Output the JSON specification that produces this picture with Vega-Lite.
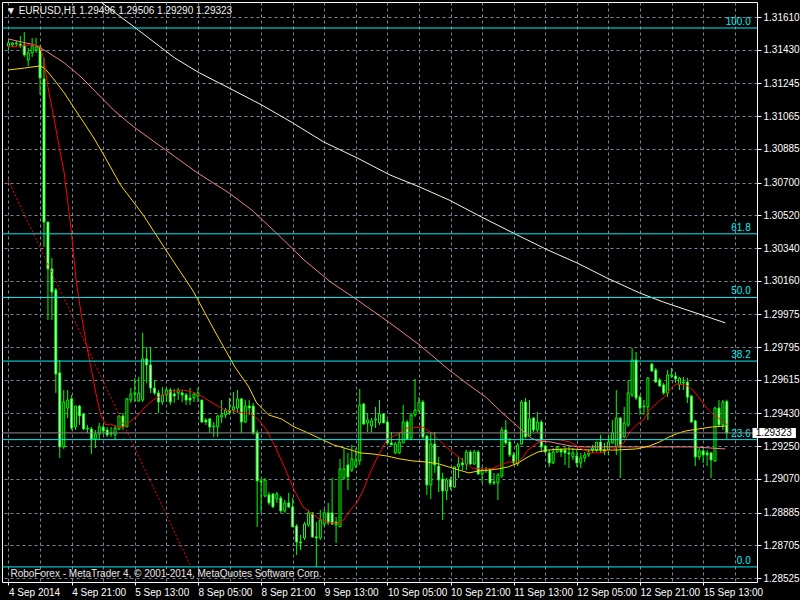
{
  "$schema": "https://vega.github.io/schema/vega-lite/v6.json",
  "width": 755,
  "height": 580,
  "autosize": "none",
  "padding": {"left": 2, "top": 2, "right": 43, "bottom": 18},
  "background": "#000000",
  "title": {
    "text": "▼ EURUSD,H1  1.29496 1.29506 1.29290 1.29323",
    "anchor": "start",
    "frame": "group",
    "offset": 0,
    "dx": 4,
    "dy": 22,
    "baseline": "alphabetic",
    "font": "Liberation Sans",
    "fontSize": 10,
    "fontWeight": "normal",
    "color": "#f0f0f0"
  },
  "datasets": {
    "bars": [
      {"i":0,"o":1.31451,"h":1.31484,"l":1.31429,"c":1.31468},
      {"i":1,"o":1.31457,"h":1.31473,"l":1.31446,"c":1.31468},
      {"i":2,"o":1.31462,"h":1.31479,"l":1.31451,"c":1.31468},
      {"i":3,"o":1.31462,"h":1.31506,"l":1.3144,"c":1.31451},
      {"i":4,"o":1.31457,"h":1.31528,"l":1.31391,"c":1.31402},
      {"i":5,"o":1.31374,"h":1.3144,"l":1.31341,"c":1.31413},
      {"i":6,"o":1.31413,"h":1.31495,"l":1.31391,"c":1.31451},
      {"i":7,"o":1.31429,"h":1.31495,"l":1.31413,"c":1.31446},
      {"i":8,"o":1.31446,"h":1.31457,"l":1.31182,"c":1.31275},
      {"i":9,"o":1.3127,"h":1.31385,"l":1.30346,"c":1.30483},
      {"i":10,"o":1.30483,"h":1.30483,"l":1.29944,"c":1.30225},
      {"i":11,"o":1.30225,"h":1.30285,"l":1.29944,"c":1.30098},
      {"i":12,"o":1.30109,"h":1.3012,"l":1.29543,"c":1.29647},
      {"i":13,"o":1.29653,"h":1.29724,"l":1.29185,"c":1.29246},
      {"i":14,"o":1.29246,"h":1.29559,"l":1.29235,"c":1.29493},
      {"i":15,"o":1.2946,"h":1.29559,"l":1.29405,"c":1.29504},
      {"i":16,"o":1.2951,"h":1.29532,"l":1.29339,"c":1.2935},
      {"i":17,"o":1.29356,"h":1.29471,"l":1.29339,"c":1.29471},
      {"i":18,"o":1.29471,"h":1.29477,"l":1.29367,"c":1.29416},
      {"i":19,"o":1.29427,"h":1.29433,"l":1.29339,"c":1.29345},
      {"i":20,"o":1.29345,"h":1.29367,"l":1.29323,"c":1.2935},
      {"i":21,"o":1.29345,"h":1.29356,"l":1.29207,"c":1.2929},
      {"i":22,"o":1.2929,"h":1.29339,"l":1.2924,"c":1.29317},
      {"i":23,"o":1.29317,"h":1.29378,"l":1.29284,"c":1.29356},
      {"i":24,"o":1.29356,"h":1.29367,"l":1.29312,"c":1.29334},
      {"i":25,"o":1.29339,"h":1.29356,"l":1.29301,"c":1.29312},
      {"i":26,"o":1.29317,"h":1.29356,"l":1.29301,"c":1.29323},
      {"i":27,"o":1.29312,"h":1.29367,"l":1.29284,"c":1.2935},
      {"i":28,"o":1.29345,"h":1.29422,"l":1.29339,"c":1.29416},
      {"i":29,"o":1.29416,"h":1.29433,"l":1.29339,"c":1.29356},
      {"i":30,"o":1.29356,"h":1.29515,"l":1.29356,"c":1.2951},
      {"i":31,"o":1.29504,"h":1.2957,"l":1.29488,"c":1.29537},
      {"i":32,"o":1.29537,"h":1.29625,"l":1.29493,"c":1.29543},
      {"i":33,"o":1.29499,"h":1.29631,"l":1.29493,"c":1.29543},
      {"i":34,"o":1.29504,"h":1.29873,"l":1.29493,"c":1.2973},
      {"i":35,"o":1.2973,"h":1.29796,"l":1.29598,"c":1.29697},
      {"i":36,"o":1.29697,"h":1.2979,"l":1.29543,"c":1.2957},
      {"i":37,"o":1.2957,"h":1.29614,"l":1.29532,"c":1.29543},
      {"i":38,"o":1.29543,"h":1.29559,"l":1.29433,"c":1.29493},
      {"i":39,"o":1.29493,"h":1.29576,"l":1.29477,"c":1.29532},
      {"i":40,"o":1.29532,"h":1.2957,"l":1.29493,"c":1.29559},
      {"i":41,"o":1.29559,"h":1.2957,"l":1.29477,"c":1.29493},
      {"i":42,"o":1.29537,"h":1.29565,"l":1.29488,"c":1.29526},
      {"i":43,"o":1.29543,"h":1.2957,"l":1.29504,"c":1.29559},
      {"i":44,"o":1.29543,"h":1.29559,"l":1.29493,"c":1.29532},
      {"i":45,"o":1.29532,"h":1.29543,"l":1.29477,"c":1.29504},
      {"i":46,"o":1.29515,"h":1.2957,"l":1.29477,"c":1.29504},
      {"i":47,"o":1.29515,"h":1.29548,"l":1.29493,"c":1.29537},
      {"i":48,"o":1.29526,"h":1.2957,"l":1.29493,"c":1.29543},
      {"i":49,"o":1.29504,"h":1.29504,"l":1.29378,"c":1.29383},
      {"i":50,"o":1.29394,"h":1.29405,"l":1.29367,"c":1.29383},
      {"i":51,"o":1.294,"h":1.29405,"l":1.29323,"c":1.29356},
      {"i":52,"o":1.29356,"h":1.29383,"l":1.29301,"c":1.29361},
      {"i":53,"o":1.29356,"h":1.29422,"l":1.29301,"c":1.29416},
      {"i":54,"o":1.29411,"h":1.29504,"l":1.29378,"c":1.29422},
      {"i":55,"o":1.29422,"h":1.2946,"l":1.29405,"c":1.29449},
      {"i":56,"o":1.29449,"h":1.29515,"l":1.29422,"c":1.29438},
      {"i":57,"o":1.29449,"h":1.29548,"l":1.29433,"c":1.29466},
      {"i":58,"o":1.2946,"h":1.29559,"l":1.29433,"c":1.2951},
      {"i":59,"o":1.2951,"h":1.29515,"l":1.29323,"c":1.29383},
      {"i":60,"o":1.29383,"h":1.29504,"l":1.29378,"c":1.29471},
      {"i":61,"o":1.29471,"h":1.29504,"l":1.29422,"c":1.2946},
      {"i":62,"o":1.29471,"h":1.29488,"l":1.29312,"c":1.29323},
      {"i":63,"o":1.29323,"h":1.29339,"l":1.28806,"c":1.29059},
      {"i":64,"o":1.29059,"h":1.29075,"l":1.28883,"c":1.29053},
      {"i":65,"o":1.28976,"h":1.29075,"l":1.2897,"c":1.29064},
      {"i":66,"o":1.28982,"h":1.28998,"l":1.28927,"c":1.28938},
      {"i":67,"o":1.28987,"h":1.28993,"l":1.2891,"c":1.28916},
      {"i":68,"o":1.2896,"h":1.28998,"l":1.28938,"c":1.28987},
      {"i":69,"o":1.28965,"h":1.28976,"l":1.28883,"c":1.28894},
      {"i":70,"o":1.28894,"h":1.28954,"l":1.28883,"c":1.28938},
      {"i":71,"o":1.28938,"h":1.28993,"l":1.2891,"c":1.28916},
      {"i":72,"o":1.28916,"h":1.28965,"l":1.28806,"c":1.28806},
      {"i":73,"o":1.28811,"h":1.28822,"l":1.28652,"c":1.28723},
      {"i":74,"o":1.28723,"h":1.28762,"l":1.28679,"c":1.28718},
      {"i":75,"o":1.28745,"h":1.28833,"l":1.28734,"c":1.28822},
      {"i":76,"o":1.28817,"h":1.28899,"l":1.28806,"c":1.28883},
      {"i":77,"o":1.28883,"h":1.28888,"l":1.28745,"c":1.28751},
      {"i":78,"o":1.28751,"h":1.28833,"l":1.28586,"c":1.28745},
      {"i":79,"o":1.28745,"h":1.28899,"l":1.28734,"c":1.28844},
      {"i":80,"o":1.28822,"h":1.28905,"l":1.28806,"c":1.28883},
      {"i":81,"o":1.28883,"h":1.28938,"l":1.28817,"c":1.28828},
      {"i":82,"o":1.28883,"h":1.29075,"l":1.28817,"c":1.28822},
      {"i":83,"o":1.28833,"h":1.28861,"l":1.28718,"c":1.28817},
      {"i":84,"o":1.28806,"h":1.2918,"l":1.28806,"c":1.29125},
      {"i":85,"o":1.29075,"h":1.2924,"l":1.29064,"c":1.29125},
      {"i":86,"o":1.29147,"h":1.29213,"l":1.29009,"c":1.29081},
      {"i":87,"o":1.29119,"h":1.29257,"l":1.29108,"c":1.2918},
      {"i":88,"o":1.29141,"h":1.2924,"l":1.2913,"c":1.29174},
      {"i":89,"o":1.29169,"h":1.29565,"l":1.29147,"c":1.29477},
      {"i":90,"o":1.29482,"h":1.29488,"l":1.29367,"c":1.29372},
      {"i":91,"o":1.29378,"h":1.29433,"l":1.29328,"c":1.29394},
      {"i":92,"o":1.29361,"h":1.29405,"l":1.29328,"c":1.29389},
      {"i":93,"o":1.29394,"h":1.29466,"l":1.2935,"c":1.294},
      {"i":94,"o":1.29378,"h":1.29504,"l":1.29367,"c":1.29427},
      {"i":95,"o":1.29427,"h":1.29433,"l":1.29378,"c":1.29378},
      {"i":96,"o":1.29383,"h":1.29394,"l":1.29257,"c":1.29268},
      {"i":97,"o":1.29268,"h":1.29328,"l":1.29257,"c":1.29257},
      {"i":98,"o":1.29213,"h":1.29273,"l":1.29207,"c":1.29262},
      {"i":99,"o":1.29213,"h":1.29323,"l":1.29207,"c":1.29273},
      {"i":100,"o":1.29268,"h":1.29477,"l":1.29268,"c":1.29383},
      {"i":101,"o":1.29383,"h":1.29394,"l":1.29284,"c":1.2929},
      {"i":102,"o":1.29295,"h":1.29433,"l":1.29284,"c":1.29422},
      {"i":103,"o":1.29422,"h":1.2962,"l":1.29411,"c":1.29449},
      {"i":104,"o":1.29444,"h":1.2952,"l":1.29438,"c":1.29493},
      {"i":105,"o":1.29493,"h":1.29504,"l":1.2929,"c":1.29301},
      {"i":106,"o":1.29306,"h":1.29312,"l":1.28982,"c":1.29037},
      {"i":107,"o":1.29037,"h":1.29328,"l":1.2896,"c":1.29262},
      {"i":108,"o":1.29262,"h":1.29328,"l":1.29103,"c":1.29147},
      {"i":109,"o":1.29141,"h":1.29191,"l":1.28998,"c":1.29064},
      {"i":110,"o":1.2907,"h":1.29103,"l":1.28844,"c":1.29004},
      {"i":111,"o":1.29004,"h":1.29075,"l":1.28954,"c":1.29064},
      {"i":112,"o":1.29064,"h":1.29081,"l":1.29009,"c":1.29026},
      {"i":113,"o":1.29026,"h":1.29136,"l":1.2902,"c":1.29136},
      {"i":114,"o":1.29136,"h":1.29191,"l":1.29075,"c":1.29152},
      {"i":115,"o":1.29158,"h":1.29185,"l":1.29119,"c":1.29147},
      {"i":116,"o":1.29152,"h":1.29229,"l":1.29119,"c":1.29218},
      {"i":117,"o":1.29218,"h":1.29229,"l":1.29147,"c":1.29152},
      {"i":118,"o":1.29152,"h":1.29229,"l":1.29147,"c":1.29218},
      {"i":119,"o":1.29218,"h":1.29229,"l":1.29092,"c":1.29097},
      {"i":120,"o":1.29097,"h":1.29136,"l":1.29048,"c":1.29119},
      {"i":121,"o":1.29119,"h":1.29136,"l":1.29103,"c":1.29114},
      {"i":122,"o":1.29125,"h":1.2913,"l":1.29037,"c":1.29048},
      {"i":123,"o":1.29053,"h":1.29103,"l":1.29037,"c":1.29048},
      {"i":124,"o":1.29048,"h":1.29103,"l":1.28954,"c":1.29092},
      {"i":125,"o":1.29086,"h":1.29356,"l":1.29075,"c":1.29339},
      {"i":126,"o":1.29339,"h":1.29394,"l":1.29257,"c":1.29268},
      {"i":127,"o":1.29273,"h":1.29295,"l":1.29191,"c":1.29202},
      {"i":128,"o":1.29202,"h":1.29218,"l":1.29147,"c":1.29158},
      {"i":129,"o":1.29152,"h":1.29268,"l":1.29141,"c":1.29257},
      {"i":130,"o":1.29262,"h":1.29504,"l":1.29257,"c":1.29493},
      {"i":131,"o":1.29493,"h":1.29515,"l":1.29295,"c":1.29301},
      {"i":132,"o":1.29306,"h":1.29504,"l":1.29301,"c":1.294},
      {"i":133,"o":1.29405,"h":1.29411,"l":1.29328,"c":1.29339},
      {"i":134,"o":1.29339,"h":1.29438,"l":1.29328,"c":1.29383},
      {"i":135,"o":1.29383,"h":1.29394,"l":1.29218,"c":1.29246},
      {"i":136,"o":1.29251,"h":1.29257,"l":1.29213,"c":1.29218},
      {"i":137,"o":1.29213,"h":1.29229,"l":1.29136,"c":1.29158},
      {"i":138,"o":1.29158,"h":1.2924,"l":1.29152,"c":1.29218},
      {"i":139,"o":1.29218,"h":1.29246,"l":1.29213,"c":1.29246},
      {"i":140,"o":1.29229,"h":1.2924,"l":1.29191,"c":1.29218},
      {"i":141,"o":1.29229,"h":1.29246,"l":1.29147,"c":1.29213},
      {"i":142,"o":1.29213,"h":1.29246,"l":1.2913,"c":1.29207},
      {"i":143,"o":1.29191,"h":1.2924,"l":1.29174,"c":1.29213},
      {"i":144,"o":1.29196,"h":1.29229,"l":1.29136,"c":1.29158},
      {"i":145,"o":1.29158,"h":1.29213,"l":1.2913,"c":1.29185},
      {"i":146,"o":1.29185,"h":1.29218,"l":1.29163,"c":1.29202},
      {"i":147,"o":1.29202,"h":1.29229,"l":1.29191,"c":1.29213},
      {"i":148,"o":1.29229,"h":1.29257,"l":1.29213,"c":1.2924},
      {"i":149,"o":1.29229,"h":1.29273,"l":1.29218,"c":1.29273},
      {"i":150,"o":1.29273,"h":1.29312,"l":1.29213,"c":1.29229},
      {"i":151,"o":1.29229,"h":1.29268,"l":1.29202,"c":1.29218},
      {"i":152,"o":1.29229,"h":1.29312,"l":1.29202,"c":1.29273},
      {"i":153,"o":1.29268,"h":1.29394,"l":1.29262,"c":1.29323},
      {"i":154,"o":1.29246,"h":1.29559,"l":1.29202,"c":1.29405},
      {"i":155,"o":1.29405,"h":1.29411,"l":1.29075,"c":1.29246},
      {"i":156,"o":1.29301,"h":1.29466,"l":1.29295,"c":1.29378},
      {"i":157,"o":1.29367,"h":1.29614,"l":1.29356,"c":1.29543},
      {"i":158,"o":1.29532,"h":1.2979,"l":1.2952,"c":1.29724},
      {"i":159,"o":1.29724,"h":1.29768,"l":1.29504,"c":1.29515},
      {"i":160,"o":1.2952,"h":1.29532,"l":1.29422,"c":1.2946},
      {"i":161,"o":1.29466,"h":1.29504,"l":1.29422,"c":1.29471},
      {"i":162,"o":1.29466,"h":1.29631,"l":1.29394,"c":1.29625},
      {"i":163,"o":1.29702,"h":1.29708,"l":1.29658,"c":1.29664},
      {"i":164,"o":1.29669,"h":1.2968,"l":1.29598,"c":1.29603},
      {"i":165,"o":1.29614,"h":1.29625,"l":1.29576,"c":1.29581},
      {"i":166,"o":1.29587,"h":1.29598,"l":1.29532,"c":1.29543},
      {"i":167,"o":1.29543,"h":1.29669,"l":1.2952,"c":1.29642},
      {"i":168,"o":1.29636,"h":1.2968,"l":1.29625,"c":1.29642},
      {"i":169,"o":1.29636,"h":1.29658,"l":1.29598,"c":1.2962},
      {"i":170,"o":1.29587,"h":1.29631,"l":1.29559,"c":1.29625},
      {"i":171,"o":1.29598,"h":1.29631,"l":1.29559,"c":1.29603},
      {"i":172,"o":1.29603,"h":1.29625,"l":1.29488,"c":1.2952},
      {"i":173,"o":1.29526,"h":1.29532,"l":1.29378,"c":1.29383},
      {"i":174,"o":1.29389,"h":1.29394,"l":1.29141,"c":1.29191},
      {"i":175,"o":1.29191,"h":1.2924,"l":1.29174,"c":1.29224},
      {"i":176,"o":1.29224,"h":1.29235,"l":1.29158,"c":1.29202},
      {"i":177,"o":1.29213,"h":1.29229,"l":1.29141,"c":1.29202},
      {"i":178,"o":1.29213,"h":1.29218,"l":1.29075,"c":1.29174},
      {"i":179,"o":1.29169,"h":1.29466,"l":1.29163,"c":1.2946},
      {"i":180,"o":1.2946,"h":1.29504,"l":1.29356,"c":1.29367},
      {"i":181,"o":1.29367,"h":1.29504,"l":1.29339,"c":1.29493},
      {"i":182,"o":1.29496,"h":1.29506,"l":1.2929,"c":1.29323}
    ],
    "ma": [
      {"s":"ma100","i":-0.13,"p":1.3149},{"s":"ma100","i":6.63,"p":1.31457},{"s":"ma100","i":9.88,"p":1.31418},
      {"s":"ma100","i":14.13,"p":1.31358},{"s":"ma100","i":18.38,"p":1.31281},{"s":"ma100","i":21.63,"p":1.31209},
      {"s":"ma100","i":24.13,"p":1.31154},{"s":"ma100","i":26.63,"p":1.31099},{"s":"ma100","i":29.88,"p":1.31039},
      {"s":"ma100","i":32.13,"p":1.31},{"s":"ma100","i":39.13,"p":1.3089},{"s":"ma100","i":47.88,"p":1.30753},
      {"s":"ma100","i":55.88,"p":1.30643},{"s":"ma100","i":61.63,"p":1.30549},{"s":"ma100","i":68.38,"p":1.30412},
      {"s":"ma100","i":74.88,"p":1.30274},{"s":"ma100","i":81.63,"p":1.30153},{"s":"ma100","i":88.38,"p":1.30054},
      {"s":"ma100","i":96.63,"p":1.29928},{"s":"ma100","i":104.13,"p":1.29807},{"s":"ma100","i":111.63,"p":1.29669},
      {"s":"ma100","i":116.63,"p":1.29587},{"s":"ma100","i":120.88,"p":1.29521},{"s":"ma100","i":124.88,"p":1.29438},
      {"s":"ma100","i":129.13,"p":1.29356},{"s":"ma100","i":132.38,"p":1.29295},{"s":"ma100","i":134.13,"p":1.29279},
      {"s":"ma100","i":137.38,"p":1.29273},{"s":"ma100","i":139.88,"p":1.29262},{"s":"ma100","i":142.38,"p":1.29251},
      {"s":"ma100","i":145.88,"p":1.29246},{"s":"ma100","i":154.13,"p":1.29246},{"s":"ma100","i":167.38,"p":1.29246},
      {"s":"ma100","i":173.38,"p":1.29246},{"s":"ma100","i":181.63,"p":1.29235},

      {"s":"ma200","i":20.38,"p":1.31748},{"s":"ma200","i":23.38,"p":1.31693},{"s":"ma200","i":32.88,"p":1.31539},
      {"s":"ma200","i":42.13,"p":1.31385},{"s":"ma200","i":48.38,"p":1.31303},{"s":"ma200","i":55.88,"p":1.3122},
      {"s":"ma200","i":64.13,"p":1.31127},{"s":"ma200","i":71.63,"p":1.31033},{"s":"ma200","i":79.88,"p":1.30923},
      {"s":"ma200","i":88.38,"p":1.30835},{"s":"ma200","i":96.63,"p":1.30742},{"s":"ma200","i":104.13,"p":1.30676},
      {"s":"ma200","i":111.63,"p":1.30604},{"s":"ma200","i":119.88,"p":1.3051},{"s":"ma200","i":128.38,"p":1.30417},
      {"s":"ma200","i":136.63,"p":1.30329},{"s":"ma200","i":144.13,"p":1.30257},{"s":"ma200","i":151.63,"p":1.30175},
      {"s":"ma200","i":159.88,"p":1.30093},{"s":"ma200","i":165.88,"p":1.30043},{"s":"ma200","i":174.13,"p":1.29983},
      {"s":"ma200","i":181.63,"p":1.29928},

      {"s":"ma50","i":-0.13,"p":1.31319},{"s":"ma50","i":4.13,"p":1.3133},{"s":"ma50","i":7.88,"p":1.31341},
      {"s":"ma50","i":9.13,"p":1.3133},{"s":"ma50","i":11.63,"p":1.31264},{"s":"ma50","i":14.13,"p":1.31193},
      {"s":"ma50","i":16.63,"p":1.3111},{"s":"ma50","i":19.13,"p":1.31028},{"s":"ma50","i":21.63,"p":1.30945},
      {"s":"ma50","i":24.13,"p":1.30852},{"s":"ma50","i":28.38,"p":1.30687},{"s":"ma50","i":34.13,"p":1.30522},
      {"s":"ma50","i":39.88,"p":1.30329},{"s":"ma50","i":46.63,"p":1.30109},{"s":"ma50","i":52.38,"p":1.29878},
      {"s":"ma50","i":57.38,"p":1.29685},{"s":"ma50","i":60.88,"p":1.29576},{"s":"ma50","i":62.88,"p":1.29488},
      {"s":"ma50","i":65.88,"p":1.29422},{"s":"ma50","i":69.13,"p":1.294},{"s":"ma50","i":72.38,"p":1.29356},
      {"s":"ma50","i":75.88,"p":1.29323},{"s":"ma50","i":79.13,"p":1.2929},{"s":"ma50","i":82.38,"p":1.29257},
      {"s":"ma50","i":85.88,"p":1.29235},{"s":"ma50","i":89.13,"p":1.29213},{"s":"ma50","i":92.38,"p":1.29207},
      {"s":"ma50","i":95.88,"p":1.29196},{"s":"ma50","i":99.13,"p":1.2918},{"s":"ma50","i":102.38,"p":1.29169},
      {"s":"ma50","i":105.88,"p":1.29163},{"s":"ma50","i":109.13,"p":1.29152},{"s":"ma50","i":114.13,"p":1.29119},
      {"s":"ma50","i":116.63,"p":1.29103},{"s":"ma50","i":119.13,"p":1.29114},{"s":"ma50","i":121.63,"p":1.29119},
      {"s":"ma50","i":124.13,"p":1.29125},{"s":"ma50","i":126.63,"p":1.29136},{"s":"ma50","i":129.13,"p":1.29158},
      {"s":"ma50","i":131.63,"p":1.29191},{"s":"ma50","i":134.13,"p":1.29218},{"s":"ma50","i":136.63,"p":1.29229},
      {"s":"ma50","i":141.63,"p":1.29235},{"s":"ma50","i":147.38,"p":1.29229},{"s":"ma50","i":154.13,"p":1.29229},
      {"s":"ma50","i":159.13,"p":1.29235},{"s":"ma50","i":162.38,"p":1.29251},{"s":"ma50","i":164.88,"p":1.29273},
      {"s":"ma50","i":167.38,"p":1.29301},{"s":"ma50","i":169.88,"p":1.29323},{"s":"ma50","i":171.63,"p":1.29334},
      {"s":"ma50","i":174.88,"p":1.29345},{"s":"ma50","i":178.38,"p":1.29356},{"s":"ma50","i":181.63,"p":1.29361},

      {"s":"ma10","i":-0.13,"p":1.31446},{"s":"ma10","i":2.88,"p":1.31451},{"s":"ma10","i":5.88,"p":1.31457},
      {"s":"ma10","i":7.88,"p":1.31451},{"s":"ma10","i":8.88,"p":1.31385},{"s":"ma10","i":10.13,"p":1.31209},
      {"s":"ma10","i":11.63,"p":1.31044},{"s":"ma10","i":12.88,"p":1.3089},{"s":"ma10","i":14.13,"p":1.30752},
      {"s":"ma10","i":15.88,"p":1.30439},{"s":"ma10","i":17.13,"p":1.30164},{"s":"ma10","i":18.38,"p":1.29983},
      {"s":"ma10","i":19.63,"p":1.29823},{"s":"ma10","i":20.88,"p":1.29685},{"s":"ma10","i":22.13,"p":1.29543},
      {"s":"ma10","i":23.38,"p":1.29422},{"s":"ma10","i":24.63,"p":1.29367},{"s":"ma10","i":25.88,"p":1.29372},
      {"s":"ma10","i":27.38,"p":1.29356},{"s":"ma10","i":29.13,"p":1.29356},{"s":"ma10","i":30.38,"p":1.29378},
      {"s":"ma10","i":32.38,"p":1.29411},{"s":"ma10","i":34.63,"p":1.29466},{"s":"ma10","i":36.63,"p":1.29504},
      {"s":"ma10","i":39.13,"p":1.29532},{"s":"ma10","i":41.63,"p":1.29554},{"s":"ma10","i":44.13,"p":1.29559},
      {"s":"ma10","i":46.63,"p":1.29548},{"s":"ma10","i":48.38,"p":1.29532},{"s":"ma10","i":51.63,"p":1.29488},
      {"s":"ma10","i":54.88,"p":1.29449},{"s":"ma10","i":58.38,"p":1.29438},{"s":"ma10","i":61.63,"p":1.29427},
      {"s":"ma10","i":63.38,"p":1.29394},{"s":"ma10","i":65.38,"p":1.29339},{"s":"ma10","i":66.63,"p":1.29284},
      {"s":"ma10","i":67.38,"p":1.29257},{"s":"ma10","i":69.88,"p":1.29136},{"s":"ma10","i":72.38,"p":1.29009},
      {"s":"ma10","i":74.63,"p":1.28916},{"s":"ma10","i":76.63,"p":1.28883},{"s":"ma10","i":78.38,"p":1.28855},
      {"s":"ma10","i":80.88,"p":1.28833},{"s":"ma10","i":83.38,"p":1.28822},{"s":"ma10","i":84.88,"p":1.28844},
      {"s":"ma10","i":86.63,"p":1.28899},{"s":"ma10","i":88.38,"p":1.28943},{"s":"ma10","i":89.88,"p":1.29009},
      {"s":"ma10","i":91.63,"p":1.29103},{"s":"ma10","i":93.38,"p":1.29185},{"s":"ma10","i":94.88,"p":1.29246},
      {"s":"ma10","i":96.13,"p":1.29295},{"s":"ma10","i":98.38,"p":1.29312},{"s":"ma10","i":100.88,"p":1.2935},
      {"s":"ma10","i":102.38,"p":1.2935},{"s":"ma10","i":104.88,"p":1.29356},{"s":"ma10","i":107.13,"p":1.29323},
      {"s":"ma10","i":109.13,"p":1.29284},{"s":"ma10","i":110.88,"p":1.29246},{"s":"ma10","i":113.38,"p":1.29202},
      {"s":"ma10","i":115.88,"p":1.29158},{"s":"ma10","i":117.38,"p":1.2913},{"s":"ma10","i":119.88,"p":1.29125},
      {"s":"ma10","i":122.38,"p":1.29125},{"s":"ma10","i":124.63,"p":1.29147},{"s":"ma10","i":126.63,"p":1.29163},
      {"s":"ma10","i":129.13,"p":1.29163},{"s":"ma10","i":130.38,"p":1.29191},{"s":"ma10","i":131.63,"p":1.29229},
      {"s":"ma10","i":133.38,"p":1.29257},{"s":"ma10","i":134.88,"p":1.29279},{"s":"ma10","i":137.38,"p":1.2929},
      {"s":"ma10","i":139.88,"p":1.29284},{"s":"ma10","i":142.38,"p":1.29273},{"s":"ma10","i":144.88,"p":1.2924},
      {"s":"ma10","i":147.38,"p":1.29213},{"s":"ma10","i":149.88,"p":1.29213},{"s":"ma10","i":153.38,"p":1.29235},
      {"s":"ma10","i":155.88,"p":1.29268},{"s":"ma10","i":157.38,"p":1.29328},{"s":"ma10","i":159.13,"p":1.29367},
      {"s":"ma10","i":160.88,"p":1.29394},{"s":"ma10","i":162.38,"p":1.29449},{"s":"ma10","i":164.63,"p":1.29493},
      {"s":"ma10","i":166.13,"p":1.2952},{"s":"ma10","i":167.88,"p":1.2957},{"s":"ma10","i":169.13,"p":1.29592},
      {"s":"ma10","i":171.63,"p":1.29587},{"s":"ma10","i":173.38,"p":1.29559},{"s":"ma10","i":175.38,"p":1.29504},
      {"s":"ma10","i":176.63,"p":1.29466},{"s":"ma10","i":178.63,"p":1.29422},{"s":"ma10","i":179.88,"p":1.29405},
      {"s":"ma10","i":182.13,"p":1.29367}
    ],
    "trend": [
      {"i": -0.1, "p": 1.30714},
      {"i": 46, "p": 1.28597}
    ],
    "fib": [
      {"level": "100.0", "p": 1.3155},
      {"level": "61.8", "p": 1.30418},
      {"level": "50.0", "p": 1.30068},
      {"level": "38.2", "p": 1.29718},
      {"level": "23.6", "p": 1.29286},
      {"level": "0.0", "p": 1.28586}
    ]
  },
  "layer": [
    {
      "data": {"name": "bars"},
      "mark": {"type": "rule", "color": "#00ff00", "strokeWidth": 1},
      "encoding": {
        "x": {
          "field": "i", "type": "quantitative", "title": null,
          "scale": {"domain": [-0.375, 188.375], "nice": false, "zero": false},
          "axis": {
            "values": [0, 8, 16, 24, 32, 40, 48, 56, 64, 72, 80, 88, 96, 104, 112, 120, 128, 136, 144, 152, 160, 168, 176, 184],
            "tickCount": 200,
            "labelExpr": "datum.value % 16 === 0 ? ['4 Sep 2014','4 Sep 21:00','5 Sep 13:00','8 Sep 05:00','8 Sep 21:00','9 Sep 13:00','10 Sep 05:00','10 Sep 21:00','11 Sep 13:00','12 Sep 05:00','12 Sep 21:00','15 Sep 13:00'][datum.value / 16] : ''",
            "tickOpacity": {"condition": {"test": "datum.value % 16 === 0", "value": 1}, "value": 0}
          }
        },
        "y": {
          "field": "l", "type": "quantitative", "title": null,
          "scale": {"domain": [1.28503, 1.31693], "nice": false, "zero": false},
          "axis": {
            "orient": "right",
            "values": [1.3161, 1.3143, 1.31245, 1.31065, 1.30885, 1.307, 1.3052, 1.3034, 1.3016, 1.29975, 1.29795, 1.29615, 1.2943, 1.2925, 1.2907, 1.28885, 1.28705, 1.28525],
            "tickCount": 200,
            "format": ".5f"
          }
        },
        "y2": {"field": "h"}
      }
    },
    {
      "data": {"name": "bars"},
      "mark": {"type": "bar", "width": 2, "stroke": "#00ff00", "strokeWidth": 1},
      "encoding": {
        "x": {"field": "i", "type": "quantitative", "title": null},
        "y": {"field": "o", "type": "quantitative", "title": null, "axis": {"orient": "right"}},
        "y2": {"field": "c"},
        "fill": {"condition": {"test": "datum.c < datum.o", "value": "#ffffff"}, "value": "#000000"}
      }
    },
    {
      "data": {"name": "ma"},
      "mark": {"type": "line", "strokeWidth": 1, "clip": true},
      "encoding": {
        "x": {"field": "i", "type": "quantitative", "title": null},
        "y": {"field": "p", "type": "quantitative", "title": null, "axis": {"orient": "right"}},
        "color": {
          "field": "s", "type": "nominal", "legend": null,
          "scale": {"domain": ["ma200", "ma100", "ma50", "ma10"], "range": ["#f5f5dc", "#f08080", "#ffd700", "#ff0000"]}
        },
        "order": {"field": "i", "type": "quantitative"}
      }
    },
    {
      "data": {"name": "trend"},
      "mark": {"type": "line", "color": "#ff0000", "strokeWidth": 1, "strokeDash": [2, 2]},
      "encoding": {
        "x": {"field": "i", "type": "quantitative", "title": null},
        "y": {"field": "p", "type": "quantitative", "title": null, "axis": {"orient": "right"}}
      }
    },
    {
      "data": {"name": "fib"},
      "mark": {"type": "rule", "color": "#00eef5", "strokeWidth": 1},
      "encoding": {
        "y": {"field": "p", "type": "quantitative", "title": null, "axis": {"orient": "right"}}
      }
    },
    {
      "data": {"name": "fib"},
      "mark": {"type": "text", "color": "#00eef5", "align": "right", "baseline": "bottom", "dx": -1, "dy": -1, "font": "Liberation Sans", "fontSize": 10},
      "encoding": {
        "x": {"datum": 188.3, "type": "quantitative"},
        "y": {"field": "p", "type": "quantitative", "title": null, "axis": {"orient": "right"}},
        "text": {"field": "level"}
      }
    },
    {
      "data": {"values": [{"p": 1.29323}]},
      "mark": {"type": "rule", "color": "#8c8c8c", "strokeWidth": 1},
      "encoding": {
        "y": {"field": "p", "type": "quantitative", "title": null, "axis": {"orient": "right"}}
      }
    },
    {
      "data": {"values": [{"x1": 188.5, "x2": 199.5, "top": 1.293505, "bottom": 1.292955}]},
      "mark": {"type": "rect", "color": "#ffffff"},
      "encoding": {
        "x": {"field": "x1", "type": "quantitative", "title": null},
        "x2": {"field": "x2"},
        "y": {"field": "top", "type": "quantitative", "title": null, "axis": {"orient": "right"}},
        "y2": {"field": "bottom"}
      }
    },
    {
      "data": {"values": [{"i": 189.3, "p": 1.29323, "t": "1.29323"}]},
      "mark": {"type": "text", "color": "#000000", "align": "left", "baseline": "middle", "font": "Liberation Sans", "fontSize": 10},
      "encoding": {
        "x": {"field": "i", "type": "quantitative", "title": null},
        "y": {"field": "p", "type": "quantitative", "title": null, "axis": {"orient": "right"}},
        "text": {"field": "t"}
      }
    },
    {
      "data": {"values": [{"i": 0.5, "p": 1.2853, "t": "RoboForex - MetaTrader 4, © 2001-2014, MetaQuotes Software Corp."}]},
      "mark": {"type": "text", "color": "#e6e6e6", "align": "left", "baseline": "alphabetic", "font": "Liberation Sans", "fontSize": 10},
      "encoding": {
        "x": {"field": "i", "type": "quantitative", "title": null},
        "y": {"field": "p", "type": "quantitative", "title": null, "axis": {"orient": "right"}},
        "text": {"field": "t"}
      }
    }
  ],
  "config": {
    "view": {"stroke": "#ffffff", "strokeWidth": 1},
    "axis": {
      "grid": true,
      "gridColor": "#778899",
      "gridDash": [3, 3],
      "gridOpacity": 1,
      "gridWidth": 1,
      "domain": false,
      "title": null,
      "tickColor": "#ffffff",
      "labelColor": "#ffffff",
      "labelFont": "Liberation Sans",
      "labelFontSize": 10,
      "labelOverlap": false,
      "labelBound": false,
      "labelFlush": false,
      "labelSeparation": 0
    },
    "axisX": {
      "tickSize": 3,
      "labelAlign": "left",
      "labelBaseline": "top",
      "labelPadding": 2
    },
    "axisY": {
      "tickSize": 4,
      "labelPadding": 2
    }
  }
}
